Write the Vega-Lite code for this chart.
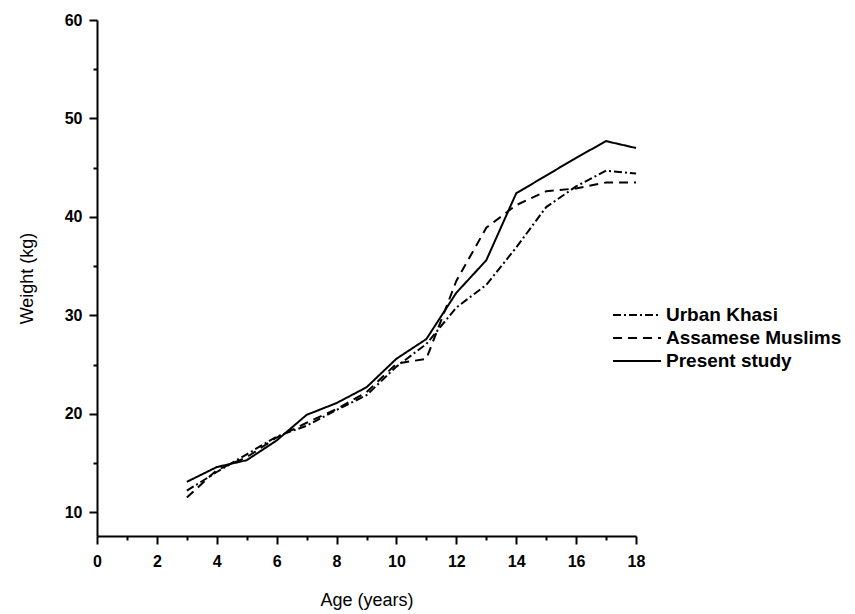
{
  "$schema": "https://vega.github.io/schema/vega-lite/v6.json",
  "autosize": {"type": "none"},
  "padding": {"left": 97, "top": 20, "right": 219, "bottom": 78},
  "width": 539,
  "height": 516,
  "background": "white",
  "config": {
    "view": {"stroke": null},
    "font": "Liberation Sans"
  },
  "data": {
    "values": [
      {"age": 3, "series": "Urban Khasi", "weight": 12.2},
      {"age": 4, "series": "Urban Khasi", "weight": 14.1},
      {"age": 5, "series": "Urban Khasi", "weight": 15.9},
      {"age": 6, "series": "Urban Khasi", "weight": 17.7},
      {"age": 7, "series": "Urban Khasi", "weight": 18.8},
      {"age": 8, "series": "Urban Khasi", "weight": 20.4},
      {"age": 9, "series": "Urban Khasi", "weight": 21.9},
      {"age": 10, "series": "Urban Khasi", "weight": 24.8},
      {"age": 11, "series": "Urban Khasi", "weight": 27.1},
      {"age": 12, "series": "Urban Khasi", "weight": 30.8},
      {"age": 13, "series": "Urban Khasi", "weight": 33.1},
      {"age": 14, "series": "Urban Khasi", "weight": 36.9},
      {"age": 15, "series": "Urban Khasi", "weight": 41.0},
      {"age": 16, "series": "Urban Khasi", "weight": 43.1},
      {"age": 17, "series": "Urban Khasi", "weight": 44.7},
      {"age": 18, "series": "Urban Khasi", "weight": 44.4},
      {"age": 3, "series": "Assamese Muslims", "weight": 11.5},
      {"age": 4, "series": "Assamese Muslims", "weight": 14.3},
      {"age": 5, "series": "Assamese Muslims", "weight": 15.6},
      {"age": 6, "series": "Assamese Muslims", "weight": 17.6},
      {"age": 7, "series": "Assamese Muslims", "weight": 19.1},
      {"age": 8, "series": "Assamese Muslims", "weight": 20.5},
      {"age": 9, "series": "Assamese Muslims", "weight": 22.2},
      {"age": 10, "series": "Assamese Muslims", "weight": 25.1},
      {"age": 11, "series": "Assamese Muslims", "weight": 25.6},
      {"age": 12, "series": "Assamese Muslims", "weight": 33.5},
      {"age": 13, "series": "Assamese Muslims", "weight": 38.9},
      {"age": 14, "series": "Assamese Muslims", "weight": 41.2},
      {"age": 15, "series": "Assamese Muslims", "weight": 42.6},
      {"age": 16, "series": "Assamese Muslims", "weight": 42.9},
      {"age": 17, "series": "Assamese Muslims", "weight": 43.5},
      {"age": 18, "series": "Assamese Muslims", "weight": 43.5},
      {"age": 3, "series": "Present study", "weight": 13.1},
      {"age": 4, "series": "Present study", "weight": 14.6},
      {"age": 5, "series": "Present study", "weight": 15.3},
      {"age": 6, "series": "Present study", "weight": 17.3},
      {"age": 7, "series": "Present study", "weight": 19.9},
      {"age": 8, "series": "Present study", "weight": 21.1},
      {"age": 9, "series": "Present study", "weight": 22.7},
      {"age": 10, "series": "Present study", "weight": 25.6},
      {"age": 11, "series": "Present study", "weight": 27.6},
      {"age": 12, "series": "Present study", "weight": 32.3},
      {"age": 13, "series": "Present study", "weight": 35.6},
      {"age": 14, "series": "Present study", "weight": 42.4},
      {"age": 15, "series": "Present study", "weight": 44.2},
      {"age": 16, "series": "Present study", "weight": 46.0},
      {"age": 17, "series": "Present study", "weight": 47.7},
      {"age": 18, "series": "Present study", "weight": 47.0}
    ]
  },
  "mark": {"type": "line", "color": "black", "strokeWidth": 2},
  "encoding": {
    "x": {
      "field": "age",
      "type": "quantitative",
      "scale": {"domain": [0, 18], "nice": false, "zero": false},
      "axis": {
        "title": "Age (years)",
        "values": [0,1,2,3,4,5,6,7,8,9,10,11,12,13,14,15,16,17,18],
        "labelExpr": "datum.value % 2 === 0 ? datum.label : ''",
        "tickSize": {"condition": {"test": "datum.value % 2 === 0", "value": 8}, "value": 4},
        "tickColor": "black",
        "tickWidth": 2,
        "domainColor": "black",
        "domainWidth": 2,
        "grid": false,
        "labelFont": "Liberation Sans",
        "labelFontSize": 16,
        "labelFontWeight": "bold",
        "labelColor": "black",
        "labelPadding": 9,
        "labelFlush": false,
        "titleFont": "Liberation Sans",
        "titleFontSize": 18,
        "titleFontWeight": "normal",
        "titleColor": "black",
        "titlePadding": 22
      }
    },
    "y": {
      "field": "weight",
      "type": "quantitative",
      "scale": {"domain": [7.6, 60], "nice": false, "zero": false},
      "axis": {
        "title": "Weight (kg)",
        "values": [10,15,20,25,30,35,40,45,50,55,60],
        "labelExpr": "datum.value % 10 === 0 ? datum.label : ''",
        "tickSize": {"condition": {"test": "datum.value % 10 === 0", "value": 8}, "value": 4},
        "tickColor": "black",
        "tickWidth": 2,
        "domainColor": "black",
        "domainWidth": 2,
        "grid": false,
        "labelFont": "Liberation Sans",
        "labelFontSize": 16,
        "labelFontWeight": "bold",
        "labelColor": "black",
        "labelPadding": 7,
        "labelFlush": false,
        "titleFont": "Liberation Sans",
        "titleFontSize": 18,
        "titleFontWeight": "normal",
        "titleColor": "black",
        "titlePadding": 28
      }
    },
    "strokeDash": {
      "field": "series",
      "type": "nominal",
      "scale": {
        "domain": ["Urban Khasi", "Assamese Muslims", "Present study"],
        "range": [[8, 3, 2, 3], [9, 6], [1, 0]]
      },
      "legend": {
        "title": null,
        "orient": "none",
        "legendX": 527,
        "legendY": 282,
        "symbolType": "M-2,0L2,0",
        "symbolSize": 576,
        "symbolStrokeColor": "black",
        "symbolStrokeWidth": 2,
        "labelFont": "Liberation Sans",
        "labelFontSize": 19,
        "labelFontWeight": "bold",
        "labelColor": "black",
        "labelLimit": 400,
        "labelOffset": 16,
        "rowPadding": 0
      }
    }
  }
}
